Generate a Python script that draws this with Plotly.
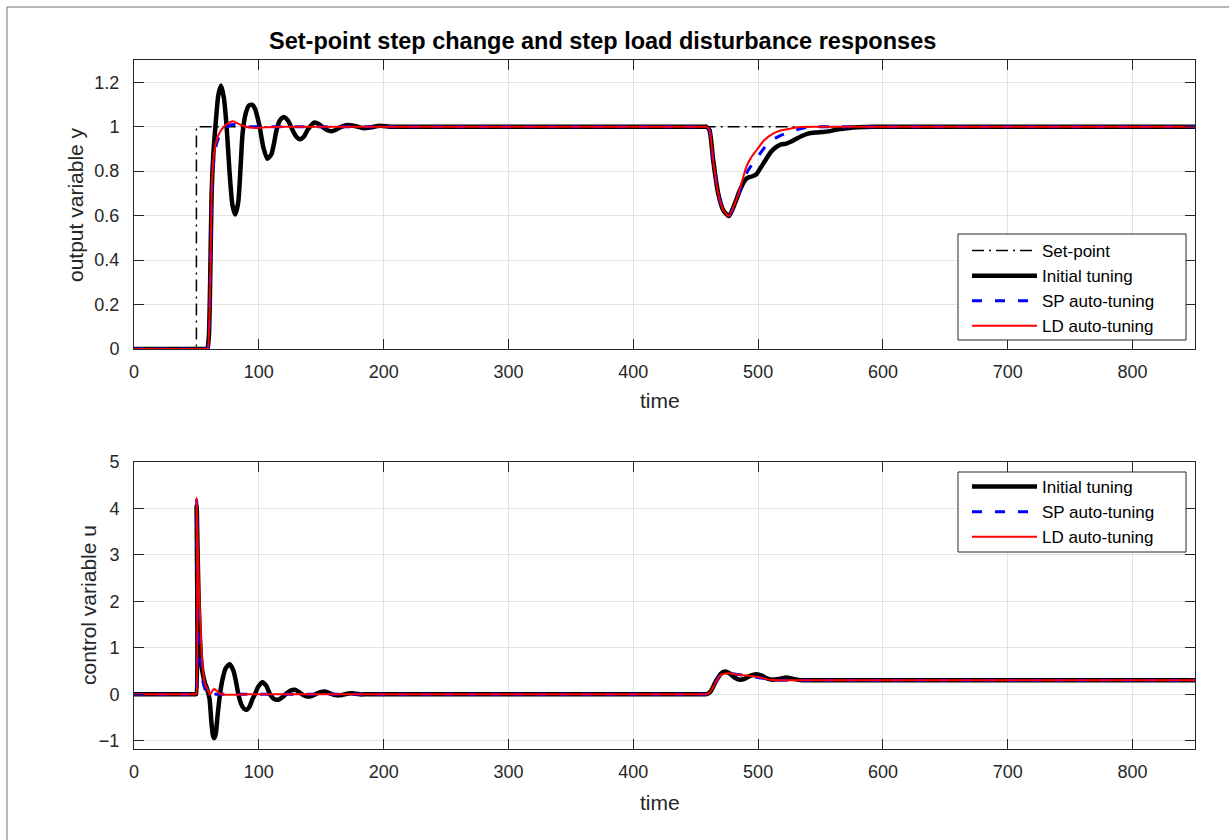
import plotly.graph_objects as go

# ---------------- output variable y ----------------
t_sp = [0, 50, 50, 850]
y_sp = [0, 0, 1, 1]

t_y_init = [0, 20, 40, 52, 56, 57.8, 58.8, 60, 61, 62.2, 63.5, 65.5, 67.5, 69.7, 72, 74.2, 76.5,
            78.8, 81.1, 83.5, 85.5, 87, 89.5, 92, 94.5, 97, 99, 101, 103.5, 106.8, 110, 112, 114,
            116.5, 119.6, 123, 125, 127, 130, 133, 136, 139, 141, 144.5, 148, 152, 155, 158,
            161.5, 165, 171, 177, 184, 190, 197, 205, 215, 230, 260, 300, 340, 380, 420, 445,
            453, 456.5, 458.5,
            461, 464, 468, 472, 476.6, 481.4, 485.4, 489.4, 492, 495, 498.6, 502, 506.6, 510.5,
            514.6, 518.5, 522.6, 526.5, 530.7, 535, 540, 546, 552, 557.5, 563, 571, 579, 587,
            595, 605, 620, 650, 700, 750, 800, 850]
y_init = [0, 0, 0, 0, 0, 0, 0, 0.06, 0.3, 0.7, 0.87, 1.02, 1.14, 1.185, 1.13, 1.0, 0.8, 0.65,
          0.605, 0.66, 0.83, 0.97, 1.06, 1.095, 1.099, 1.08, 1.04, 0.99, 0.91, 0.856, 0.875, 0.92,
          0.98, 1.025, 1.043, 1.03, 1.01, 0.985, 0.955, 0.944, 0.955, 0.985, 1.0, 1.019, 1.012,
          0.995, 0.984, 0.98, 0.985, 0.997, 1.008, 1.003, 0.993, 0.997, 1.004, 1.0, 1.0, 1.0,
          1.0, 1.0, 1.0, 1.0, 1.0, 1.0, 1.0, 1.0, 1.0,
          0.985, 0.849, 0.70, 0.625, 0.598, 0.655, 0.714, 0.759, 0.771, 0.776, 0.786, 0.815,
          0.856, 0.888, 0.909, 0.92, 0.924, 0.933, 0.946, 0.958, 0.969, 0.974, 0.976, 0.98,
          0.987, 0.993, 0.998, 0.999, 1.0, 1.0, 1.0, 1.0, 1.0, 1.0, 1.0, 1.0]

t_y_sp = [0, 20, 40, 52, 56, 58, 59, 60.9, 62.2, 63.5, 64.9, 66.5, 68.9, 72, 76, 80, 85, 92,
          100, 110, 130, 160, 200, 250, 300, 350, 400, 440, 453, 456.5, 458.5,
          461, 464, 468, 472, 476.6, 481.4, 485.4, 490.6, 494.5, 498.7, 505, 512, 518.5, 525.5,
          532, 538.8, 548, 560, 580, 620, 680, 740, 800, 850]
y_sp_auto = [0, 0, 0, 0, 0, 0, 0, 0.24, 0.68, 0.83, 0.89, 0.93, 0.965, 0.99, 1.005, 1.01, 1.005,
             1.0, 1.0, 1.0, 1.0, 1.0, 1.0, 1.0, 1.0, 1.0, 1.0, 1.0, 1.0, 1.0, 1.0,
             0.985, 0.849, 0.70, 0.625, 0.598, 0.65, 0.71, 0.79, 0.825, 0.856, 0.905, 0.942,
             0.962, 0.976, 0.988, 0.997, 1.0, 1.0, 1.0, 1.0, 1.0, 1.0, 1.0, 1.0]

t_y_ld = [0, 20, 40, 52, 56, 58, 59, 60.9, 62.2, 63.5, 64.9, 66.5, 68.9, 72, 76.9, 79.5, 83,
          87.5, 93, 98.2, 105, 115, 130, 160, 200, 250, 300, 350, 400, 440, 453, 456.5, 458.5,
          461, 464, 468, 472, 476.6, 481.4, 485.4, 490.6, 494.5, 498.7, 505, 512, 518, 525.5,
          532, 538.8, 550, 570, 620, 680, 740, 800, 850]
y_ld = [0, 0, 0, 0, 0, 0, 0, 0.25, 0.70, 0.85, 0.908, 0.945, 0.976, 1.0, 1.02, 1.024, 1.015,
        1.003, 0.996, 0.994, 0.997, 1.0, 1.0, 1.0, 1.0, 1.0, 1.0, 1.0, 1.0, 1.0, 1.0, 1.0, 1.0,
        0.985, 0.849, 0.70, 0.625, 0.598, 0.655, 0.72, 0.82, 0.862, 0.894, 0.94, 0.969, 0.983,
        0.991, 0.997, 1.0, 1.0, 1.0, 1.0, 1.0, 1.0, 1.0, 1.0]

# ---------------- control variable u ----------------
t_u_init = [0, 15, 30, 42, 47, 49, 49.8, 50.2, 50.8, 51.8, 53, 54.2, 55.5, 56.9, 58.5, 60.5,
            62, 63.2, 64.3, 65.5, 67, 68.9, 71, 73.5, 76.6, 79.5, 81.5, 83.6, 86, 88, 90.2, 92.5,
            95, 96.9, 99.5, 103, 106, 109, 112, 115.6, 119, 122.3, 125.5, 129, 132, 135, 138,
            141, 144, 147, 150, 153, 156, 159.5, 163, 166, 169, 172, 175, 178, 182, 186, 195,
            210, 240, 280, 320, 360, 400, 430, 448, 454, 457, 458.7,
            462, 466, 470, 473.4, 477, 481, 485.4, 489, 493, 498.8, 503, 507, 512, 517, 522.8,
            528, 535, 545, 560, 590, 640, 700, 760, 810, 850]
u_init = [0, 0, 0, 0, 0, 0, 0, 4.05, 3.3, 2.0, 1.1, 0.6, 0.38, 0.24, 0.12, -0.1, -0.6, -0.88,
          -0.945, -0.85, -0.45, 0.0, 0.33, 0.56, 0.646, 0.52, 0.3, 0.0, -0.22, -0.31, -0.335,
          -0.27, -0.1, 0.0, 0.16, 0.26, 0.18, 0.0, -0.1, -0.12, -0.06, 0.02, 0.08, 0.095, 0.05,
          -0.01, -0.045, -0.05, -0.02, 0.02, 0.05, 0.058, 0.03, -0.01, -0.025, -0.02, 0.0,
          0.015, 0.02, 0.01, -0.005, 0.0, 0.0,
          0.0, 0.0, 0.0, 0.0, 0.0, 0.0, 0.0, 0.0, 0.0, 0.0, 0.0,
          0.06, 0.27, 0.44, 0.49, 0.45, 0.36, 0.31, 0.33, 0.39, 0.43, 0.40, 0.34, 0.31, 0.33,
          0.36, 0.33, 0.30, 0.30, 0.30, 0.30, 0.30, 0.30, 0.30, 0.30, 0.30]

t_u_sp = [0, 15, 30, 42, 47, 49, 49.8, 50.2, 51, 52, 53.5, 55, 57, 59, 60.3, 62, 65, 70, 80,
          100, 140, 180, 220, 260, 300, 340, 380, 420, 448, 454, 457, 458.7,
          462, 466, 470, 476, 482, 488, 493, 500, 506, 515, 530, 560, 600, 660, 720, 780, 850]
u_sp = [0, 0, 0, 0, 0, 0, 0, 4.18, 2.8, 1.6, 0.7, 0.3, 0.1, 0.0, -0.05, -0.02, 0.0, 0.0, 0.0,
        0.0, 0.0, 0.0, 0.0, 0.0, 0.0, 0.0, 0.0, 0.0, 0.0, 0.0, 0.0, 0.0,
        0.06, 0.26, 0.43, 0.46, 0.43, 0.41, 0.39, 0.36, 0.33, 0.30, 0.30, 0.30, 0.30, 0.30,
        0.30, 0.30, 0.30]

t_u_ld = [0, 15, 30, 42, 47, 49, 49.8, 50.2, 51, 52, 52.9, 54, 55.5, 57, 58.7, 60.9, 62.5,
          64.1, 66, 68.5, 72.9, 80, 90, 100, 140, 180, 220, 260, 300, 340, 380, 420, 448, 454,
          457, 458.7,
          462, 466, 470, 476, 482, 488, 493, 500, 506, 512, 520, 535, 560, 600, 660, 720, 780,
          850]
u_ld = [0, 0, 0, 0, 0, 0, 0, 4.23, 3.3, 2.3, 1.75, 1.0, 0.45, 0.2, 0.12, -0.01, 0.06, 0.11,
        0.08, 0.02, -0.01, -0.01, 0.0, 0.0, 0.0, 0.0, 0.0, 0.0, 0.0, 0.0, 0.0, 0.0, 0.0, 0.0,
        0.0, 0.0,
        0.06, 0.25, 0.41, 0.45, 0.43, 0.41, 0.395, 0.37, 0.33, 0.305, 0.30, 0.30, 0.30, 0.30,
        0.30, 0.30, 0.30, 0.30]

x_ticks = [0, 100, 200, 300, 400, 500, 600, 700, 800]
y_ticks_top = [0, 0.2, 0.4, 0.6, 0.8, 1, 1.2]
y_ticks_bottom = [-1, 0, 1, 2, 3, 4, 5]

FONT = "Liberation Sans, Arial, Helvetica, sans-serif"
TXT = "#262626"

# pixel helpers for paper-referenced decorations (plot area 134..1195 x 60..749)
def px(xp):
    return (xp - 134) / 1061

def py(yp):
    return (749 - yp) / 689

fig = go.Figure()

def add(x, y, name, color, width, dash, xa, ya, legend, group, shape="spline"):
    fig.add_trace(go.Scatter(
        x=x, y=y, name=name, mode="lines", xaxis=xa, yaxis=ya,
        line=dict(color=color, width=width, dash=dash, shape=shape, smoothing=0.6),
        legend=legend, legendgroup=group,
    ))

# top: output y
add(t_sp, y_sp, "Set-point", "black", 1.5, "12px,5px,2px,5px", "x", "y", "legend", "a", shape="linear")
add(t_y_init, y_init, "Initial tuning", "black", 4.5, "solid", "x", "y", "legend", "b")
add(t_y_sp, y_sp_auto, "SP auto-tuning", "#0000ff", 3, "10px,13px", "x", "y", "legend", "c")
add(t_y_ld, y_ld, "LD auto-tuning", "#ff0000", 2, "solid", "x", "y", "legend", "d")

# bottom: control u
add(t_u_init, u_init, "Initial tuning", "black", 4.5, "solid", "x2", "y2", "legend2", "e")
add(t_u_sp, u_sp, "SP auto-tuning", "#0000ff", 3, "10px,13px", "x2", "y2", "legend2", "f")
add(t_u_ld, u_ld, "LD auto-tuning", "#ff0000", 2, "solid", "x2", "y2", "legend2", "g")

axis_common = dict(
    showline=True, linecolor=TXT, linewidth=1, mirror="ticks",
    ticks="inside", ticklen=10, tickcolor=TXT, tickwidth=1,
    showgrid=True, gridcolor="#e3e3e3", gridwidth=1, zeroline=False,
    tickfont=dict(family=FONT, size=18, color=TXT),
)

legend_common = dict(
    xanchor="left", yanchor="top", bgcolor="rgba(0,0,0,0)", borderwidth=0,
    font=dict(family=FONT, size=17, color="black"), tracegroupgap=0, itemwidth=65,
)

def label(text, x, y, angle=0, size=21, bold=False, color=TXT):
    return dict(text=f"<b>{text}</b>" if bold else text, xref="paper", yref="paper",
                x=x, y=y, xanchor="center", yanchor="middle", showarrow=False,
                textangle=angle, font=dict(family=FONT, size=size, color=color))

def box(x0, x1, y0, y1):
    return dict(type="rect", xref="paper", yref="paper", x0=px(x0), x1=px(x1),
                y0=py(y1), y1=py(y0), line=dict(color=TXT, width=1),
                fillcolor="white", layer="above")

fig.update_layout(
    width=1229, height=840,
    margin=dict(l=134, r=34, t=60, b=91),
    paper_bgcolor="white", plot_bgcolor="white",
    font=dict(family=FONT, color=TXT),
    showlegend=True,
    xaxis=dict(domain=[0, 1], anchor="y", range=[0, 850], tickvals=x_ticks,
               ticklabelstandoff=6, **axis_common),
    yaxis=dict(domain=[py(349), 1], anchor="x", range=[0, 1.3], tickvals=y_ticks_top,
               ticklabelstandoff=10, **axis_common),
    xaxis2=dict(domain=[0, 1], anchor="y2", range=[0, 850], tickvals=x_ticks,
                ticklabelstandoff=6, **axis_common),
    yaxis2=dict(domain=[0, py(462)], anchor="x2", range=[-1.18, 5], tickvals=y_ticks_bottom,
                ticklabelstandoff=10, **axis_common),
    legend=dict(x=px(967), y=py(233), **legend_common),
    legend2=dict(x=px(967), y=py(469), **legend_common),
    annotations=[
        label("Set-point step change and step load disturbance responses", px(602), py(41),
              size=23.5, bold=True, color="black"),
        label("output variable y", px(75), py(205), angle=-90),
        label("control variable u", px(88), py(605), angle=-90),
        label("time", px(660), py(400)),
        label("time", px(660), py(802)),
    ],
    shapes=[
        dict(type="rect", xref="paper", yref="paper", x0=px(7), x1=px(1240),
             y0=py(850), y1=py(7), line=dict(color="#6e6e6e", width=1),
             fillcolor="rgba(0,0,0,0)", layer="below"),
        box(958, 1186, 234, 340),
        box(958, 1186, 472, 552),
    ],
)

fig.write_html("out.html")
